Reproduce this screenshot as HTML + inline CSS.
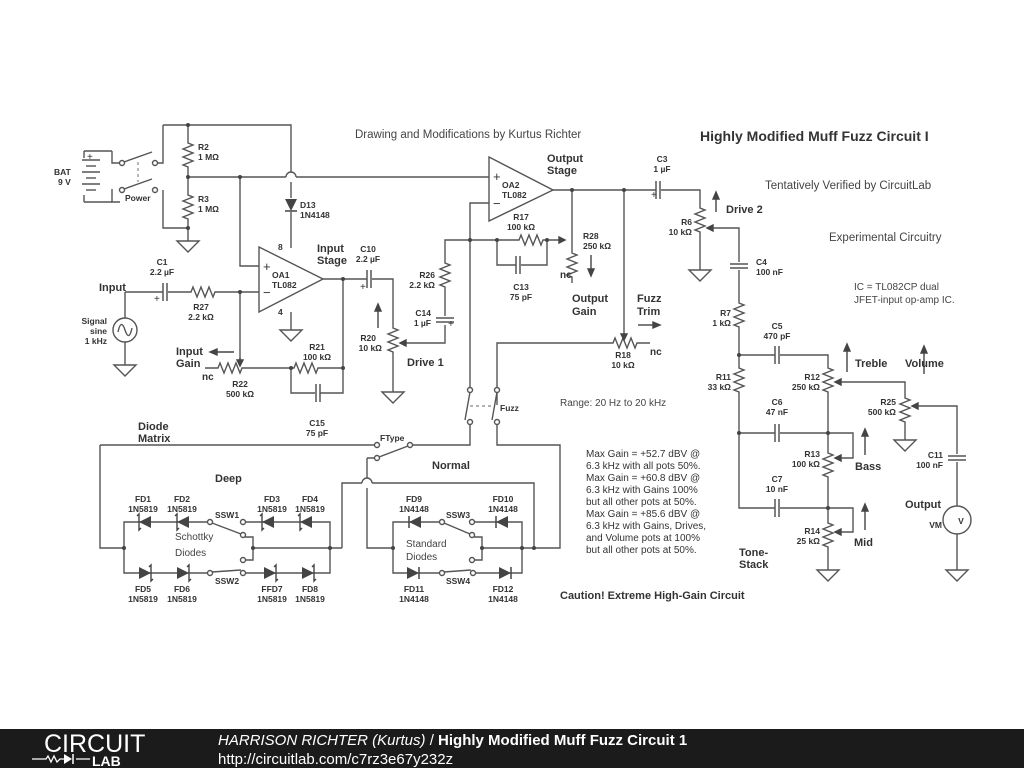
<!DOCTYPE html>
<html><head><meta charset="utf-8"><style>
html,body{margin:0;padding:0;background:#fff;}
svg{display:block}
text{font-family:"Liberation Sans",sans-serif;fill:#333}
.b{font-weight:bold;font-size:8.5px}
.m{font-weight:bold;font-size:11px}
.t{font-size:11.5px;fill:#444}
.n{font-size:10px;fill:#444}
</style></head><body>
<svg width="1024" height="768" viewBox="0 0 1024 768" xmlns="http://www.w3.org/2000/svg">
<defs>
<polyline id="rv" points="0,0 0,3 5,5 -5,9 5,13 -5,17 5,21 -5,25 0,27 0,30" fill="none" stroke="#555" stroke-width="1.4"/>
<polyline id="rh" points="0,0 3,0 5,-5 9,5 13,-5 17,5 21,-5 25,5 27,0 30,0" fill="none" stroke="#555" stroke-width="1.4"/>
<g id="gnd"><polygon points="-11,0 11,0 0,11" fill="#fff" stroke="#555" stroke-width="1.4"/></g>
<g id="dr"><polygon points="-6,-6 -6,6 6,0" fill="#444"/><line x1="6" y1="-6" x2="6" y2="6" stroke="#444" stroke-width="1.5"/></g>
<g id="dl"><polygon points="6,-6 6,6 -6,0" fill="#444"/><line x1="-6" y1="-6" x2="-6" y2="6" stroke="#444" stroke-width="1.5"/></g>
<g id="sl"><polygon points="6,-6 6,6 -6,0" fill="#444"/><polyline points="-8,-6 -6,-8 -6,8 -4,6" fill="none" stroke="#444" stroke-width="1.4"/></g>
<g id="sr"><polygon points="-6,-6 -6,6 6,0" fill="#444"/><polyline points="4,-6 6,-8 6,8 8,6" fill="none" stroke="#444" stroke-width="1.4"/></g>
<g id="cvp"><line x1="-2" y1="-9" x2="-2" y2="9" stroke="#555" stroke-width="1.5"/><line x1="2" y1="-9" x2="2" y2="9" stroke="#555" stroke-width="1.5"/></g>
<g id="chp"><line x1="-9" y1="-2" x2="9" y2="-2" stroke="#555" stroke-width="1.5"/><line x1="-9" y1="2" x2="9" y2="2" stroke="#555" stroke-width="1.5"/></g>
</defs>
<g fill="none" stroke="#555" stroke-width="1.4">
<path d="M163,125 H291 V172 M291,182 V198 M291,212 V248"/>
<path d="M286,177 A5,5 0 0 1 296,177"/>
<path d="M188,125 V140 M188,170 V192 M188,222 V232"/>
<path d="M163,125 V163 H155 M163,190 V228 H188"/>
<path d="M112,151 V163 H120 M112,189 V202 H120" />
<path d="M84,151 H112 M84,202 H112 M84,151 V158 M84,195 V202"/>
<line x1="82" y1="160" x2="100" y2="160"/><line x1="86" y1="166" x2="96" y2="166"/><line x1="82" y1="172" x2="100" y2="172"/><line x1="86" y1="178" x2="96" y2="178"/><line x1="82" y1="184" x2="100" y2="184"/><line x1="86" y1="190" x2="96" y2="190"/>
<circle cx="122" cy="163" r="2.5" fill="#fff"/><circle cx="155" cy="163" r="2.5" fill="#fff"/>
<circle cx="122" cy="190" r="2.5" fill="#fff"/><circle cx="155" cy="190" r="2.5" fill="#fff"/>
<path d="M124,162 L152,152 M124,189 L152,179"/>
<path d="M138,162 V182" stroke-dasharray="3,3" stroke="#999"/>
<path d="M188,232 V241"/>
<path d="M188,177 H286 M296,177 H489"/>
<path d="M240,177 V266 H259"/>
<polygon points="259,247 259,312 323,279" fill="#fff"/>
<path d="M291,312 V330"/>
<path d="M125,292 H163 M168,292 H188 M218,292 H259 M240,292 V360"/>
<path d="M125,292 V318 M125,342 V365"/>
<circle cx="125" cy="330" r="12"/>
<path d="M118,332 Q121,318 125,330 T132,328"/>
<path d="M215,368 H205 M245,368 H291 M321,368 H343 V279 M291,368 V393 H315 M320,393 H343 V368"/>
<path d="M323,279 H367 M372,279 H393 V325 M393,355 V392"/>
<path d="M400,343 H445 V325 M445,316 V290 M445,260 V240 H516"/>
<path d="M470,240 V203 H489 M470,240 V388 M497,405 V343 H610 M640,343 H650"/>
<path d="M497,240 V265 H516 M521,265 H547 V240 M547,240 H565"/>
<polygon points="489,157 489,221 553,190" fill="#fff"/>
<path d="M553,190 H656 M661,190 H700 V205 M700,235 V270 M707,228 H739 V262 M739,270 V300 M739,330 V365 M739,395 V508 H775 M780,508 H828 M739,433 H775 M780,433 H853 V458 H835 M739,355 H775 M780,355 H828 V365 M828,395 V450 M828,480 V520 M828,550 V570 M828,508 H853 V532 H835"/>
<path d="M572,190 V250 M572,280 V283 M624,190 V335"/>
<path d="M835,382 H905 V395 M905,425 V440 M912,406 H957 V454 M957,462 V506 M957,534 V570"/>
<circle cx="957" cy="520" r="14"/>
<circle cx="470" cy="390" r="2.5" fill="#fff"/><circle cx="497" cy="390" r="2.5" fill="#fff"/>
<circle cx="470" cy="422" r="2.5" fill="#fff"/><circle cx="497" cy="422" r="2.5" fill="#fff"/>
<path d="M470,392 L465,420 M497,392 L492,420"/>
<path d="M470,406 H492" stroke-dasharray="3,3" stroke="#999"/>
<path d="M470,424 V445 H410 M497,424 V445 H560 V548 H534"/>
<path d="M100,445 H375 M100,445 V548 H124"/>
<circle cx="377" cy="445" r="2.5" fill="#fff"/><circle cx="410" cy="445" r="2.5" fill="#fff"/><circle cx="377" cy="458" r="2.5" fill="#fff"/>
<path d="M379,457 L408,446"/>
<path d="M367,458 H375 M367,458 V478 M367,488 V548 H393"/>
<path d="M362,483 A5,5 0 0 1 372,483"/>
<path d="M342,548 V483 H362 M372,483 H534 V548"/>
<path d="M124,548 V522 H208 M124,548 V573 H208 M243,522 H330 V573 H243 M330,548 H342 M253,548 V537 H245 M253,548 V560 H245 M253,548 H330"/>
<circle cx="210" cy="522" r="2.5" fill="#fff"/><circle cx="243" cy="522" r="2.5" fill="#fff"/><circle cx="243" cy="535" r="2.5" fill="#fff"/><circle cx="243" cy="560" r="2.5" fill="#fff"/>
<circle cx="210" cy="573" r="2.5" fill="#fff"/><circle cx="243" cy="573" r="2.5" fill="#fff"/>
<path d="M212,523 L241,534 M212,572 L241,570"/>
<path d="M393,548 V522 H440 M393,548 V573 H440 M472,522 H522 V573 H473 M482,548 V537 H474 M482,548 V560 H474 M482,548 H534"/>
<circle cx="442" cy="522" r="2.5" fill="#fff"/><circle cx="472" cy="522" r="2.5" fill="#fff"/><circle cx="472" cy="535" r="2.5" fill="#fff"/><circle cx="472" cy="560" r="2.5" fill="#fff"/>
<circle cx="442" cy="573" r="2.5" fill="#fff"/><circle cx="473" cy="573" r="2.5" fill="#fff"/>
<path d="M444,523 L470,534 M444,572 L471,570"/>
</g>
<use href="#rv" x="188" y="140"/><use href="#rv" x="188" y="192"/>
<use href="#rh" x="188" y="292"/><use href="#rh" x="215" y="368"/><use href="#rh" x="291" y="368"/>
<use href="#rv" x="393" y="325"/><use href="#rv" x="445" y="260"/>
<use href="#rh" x="516" y="240"/><use href="#rv" x="572" y="250"/><use href="#rh" x="610" y="343"/>
<use href="#rv" x="700" y="205"/><use href="#rv" x="739" y="300"/><use href="#rv" x="739" y="365"/>
<use href="#rv" x="828" y="365"/><use href="#rv" x="828" y="450"/><use href="#rv" x="828" y="520"/><use href="#rv" x="905" y="395"/>
<use href="#cvp" x="165" y="292"/><use href="#cvp" x="369" y="279"/><use href="#cvp" x="318" y="393"/><use href="#cvp" x="518" y="265"/><use href="#cvp" x="658" y="190"/>
<use href="#chp" x="445" y="320"/><use href="#chp" x="739" y="266"/><use href="#chp" x="957" y="458"/>
<use href="#cvp" x="777" y="355"/><use href="#cvp" x="777" y="433"/><use href="#cvp" x="777" y="508"/>
<use href="#gnd" x="188" y="241"/><use href="#gnd" x="291" y="330"/><use href="#gnd" x="125" y="365"/><use href="#gnd" x="393" y="392"/>
<use href="#gnd" x="700" y="270"/><use href="#gnd" x="905" y="440"/><use href="#gnd" x="828" y="570"/><use href="#gnd" x="957" y="570"/>
<g transform="translate(291,205) rotate(90)"><use href="#dr"/></g>
<use href="#sl" x="145" y="522"/><use href="#sl" x="183" y="522"/><use href="#sl" x="268" y="522"/><use href="#sl" x="306" y="522"/>
<use href="#sr" x="145" y="573"/><use href="#sr" x="183" y="573"/><use href="#sr" x="270" y="573"/><use href="#sr" x="308" y="573"/>
<use href="#dl" x="415" y="522"/><use href="#dl" x="502" y="522"/><use href="#dr" x="413" y="573"/><use href="#dr" x="505" y="573"/>
<g stroke="#444" stroke-width="1.4" fill="#444">
<path d="M240,358 L240,365" /><polygon points="237,360 243,360 240,366"/>
<polygon points="400,343 406,340 406,346"/><polygon points="565,240 559,237 559,243"/><polygon points="624,340 621,334 627,334"/>
<polygon points="707,228 713,225 713,231"/><polygon points="835,382 841,379 841,385"/><polygon points="835,458 841,455 841,461"/><polygon points="835,532 841,529 841,535"/><polygon points="912,406 918,403 918,409"/>
<line x1="378" y1="328" x2="378" y2="310"/><polygon points="375,311 381,311 378,304"/>
<line x1="234" y1="352" x2="216" y2="352"/><polygon points="217,349 217,355 210,352"/>
<line x1="591" y1="255" x2="591" y2="270"/><polygon points="588,269 594,269 591,276"/>
<line x1="638" y1="325" x2="654" y2="325"/><polygon points="653,322 653,328 660,325"/>
<line x1="716" y1="212" x2="716" y2="198"/><polygon points="713,199 719,199 716,192"/>
<line x1="847" y1="372" x2="847" y2="350"/><polygon points="844,351 850,351 847,344"/>
<line x1="924" y1="374" x2="924" y2="352"/><polygon points="921,353 927,353 924,346"/>
<line x1="865" y1="455" x2="865" y2="435"/><polygon points="862,436 868,436 865,429"/>
<line x1="865" y1="530" x2="865" y2="510"/><polygon points="862,511 868,511 865,504"/>
</g>
<g fill="#444">
<circle cx="188" cy="125" r="2"/><circle cx="188" cy="177" r="2"/><circle cx="188" cy="228" r="2"/><circle cx="240" cy="177" r="2"/><circle cx="240" cy="292" r="2"/>
<circle cx="291" cy="368" r="2"/><circle cx="343" cy="368" r="2"/><circle cx="343" cy="279" r="2"/><circle cx="470" cy="240" r="2"/><circle cx="497" cy="240" r="2"/><circle cx="547" cy="240" r="2"/>
<circle cx="572" cy="190" r="2"/><circle cx="624" cy="190" r="2"/><circle cx="739" cy="355" r="2"/><circle cx="739" cy="433" r="2"/><circle cx="828" cy="433" r="2"/><circle cx="828" cy="508" r="2"/>
<circle cx="124" cy="548" r="2"/><circle cx="253" cy="548" r="2"/><circle cx="330" cy="548" r="2"/><circle cx="393" cy="548" r="2"/><circle cx="482" cy="548" r="2"/><circle cx="522" cy="548" r="2"/><circle cx="534" cy="548" r="2"/>
</g>
<text x="263" y="271" style="font-size:13px">+</text><text x="263" y="297" style="font-size:13px">−</text>
<text x="493" y="181" style="font-size:13px">+</text><text x="493" y="208" style="font-size:13px">−</text>
<text x="272" y="278" class="b">OA1</text><text x="272" y="288" class="b">TL082</text>
<text x="502" y="188" class="b">OA2</text><text x="502" y="198" class="b">TL082</text>
<text x="278" y="250" class="b">8</text><text x="278" y="315" class="b">4</text>
<text x="961" y="524" class="b" text-anchor="middle">V</text>
<g class="b">
<text x="198" y="150">R2</text><text x="198" y="160">1 MΩ</text>
<text x="198" y="202">R3</text><text x="198" y="212">1 MΩ</text>
<text x="300" y="208">D13</text><text x="300" y="218">1N4148</text>
<text x="54" y="175">BAT</text><text x="58" y="185">9 V</text>
<text x="125" y="201">Power</text>
<text x="162" y="265" text-anchor="middle">C1</text><text x="162" y="275" text-anchor="middle">2.2 µF</text>
<text x="201" y="310" text-anchor="middle">R27</text><text x="201" y="320" text-anchor="middle">2.2 kΩ</text>
<text x="107" y="324" text-anchor="end">Signal</text><text x="107" y="334" text-anchor="end">sine</text><text x="107" y="344" text-anchor="end">1 kHz</text>
<text x="240" y="387" text-anchor="middle">R22</text><text x="240" y="397" text-anchor="middle">500 kΩ</text>
<text x="317" y="350" text-anchor="middle">R21</text><text x="317" y="360" text-anchor="middle">100 kΩ</text>
<text x="368" y="252" text-anchor="middle">C10</text><text x="368" y="262" text-anchor="middle">2.2 µF</text>
<text x="376" y="341" text-anchor="end">R20</text><text x="382" y="351" text-anchor="end">10 kΩ</text>
<text x="435" y="278" text-anchor="end">R26</text><text x="435" y="288" text-anchor="end">2.2 kΩ</text>
<text x="431" y="316" text-anchor="end">C14</text><text x="431" y="326" text-anchor="end">1 µF</text>
<text x="521" y="220" text-anchor="middle">R17</text><text x="521" y="230" text-anchor="middle">100 kΩ</text>
<text x="521" y="290" text-anchor="middle">C13</text><text x="521" y="300" text-anchor="middle">75 pF</text>
<text x="583" y="239">R28</text><text x="583" y="249">250 kΩ</text>
<text x="623" y="358" text-anchor="middle">R18</text><text x="623" y="368" text-anchor="middle">10 kΩ</text>
<text x="662" y="162" text-anchor="middle">C3</text><text x="662" y="172" text-anchor="middle">1 µF</text>
<text x="692" y="225" text-anchor="end">R6</text><text x="692" y="235" text-anchor="end">10 kΩ</text>
<text x="756" y="265">C4</text><text x="756" y="275">100 nF</text>
<text x="731" y="316" text-anchor="end">R7</text><text x="731" y="326" text-anchor="end">1 kΩ</text>
<text x="777" y="329" text-anchor="middle">C5</text><text x="777" y="339" text-anchor="middle">470 pF</text>
<text x="731" y="380" text-anchor="end">R11</text><text x="731" y="390" text-anchor="end">33 kΩ</text>
<text x="820" y="380" text-anchor="end">R12</text><text x="820" y="390" text-anchor="end">250 kΩ</text>
<text x="777" y="405" text-anchor="middle">C6</text><text x="777" y="415" text-anchor="middle">47 nF</text>
<text x="820" y="457" text-anchor="end">R13</text><text x="820" y="467" text-anchor="end">100 kΩ</text>
<text x="777" y="482" text-anchor="middle">C7</text><text x="777" y="492" text-anchor="middle">10 nF</text>
<text x="820" y="534" text-anchor="end">R14</text><text x="820" y="544" text-anchor="end">25 kΩ</text>
<text x="896" y="405" text-anchor="end">R25</text><text x="896" y="415" text-anchor="end">500 kΩ</text>
<text x="943" y="458" text-anchor="end">C11</text><text x="943" y="468" text-anchor="end">100 nF</text>
<text x="942" y="528" text-anchor="end">VM</text>
<text x="317" y="426" text-anchor="middle">C15</text><text x="317" y="436" text-anchor="middle">75 pF</text>
<text x="500" y="411">Fuzz</text>
<text x="380" y="441">FType</text>
<text x="143" y="502" text-anchor="middle">FD1</text><text x="143" y="512" text-anchor="middle">1N5819</text>
<text x="182" y="502" text-anchor="middle">FD2</text><text x="182" y="512" text-anchor="middle">1N5819</text>
<text x="272" y="502" text-anchor="middle">FD3</text><text x="272" y="512" text-anchor="middle">1N5819</text>
<text x="310" y="502" text-anchor="middle">FD4</text><text x="310" y="512" text-anchor="middle">1N5819</text>
<text x="143" y="592" text-anchor="middle">FD5</text><text x="143" y="602" text-anchor="middle">1N5819</text>
<text x="182" y="592" text-anchor="middle">FD6</text><text x="182" y="602" text-anchor="middle">1N5819</text>
<text x="272" y="592" text-anchor="middle">FFD7</text><text x="272" y="602" text-anchor="middle">1N5819</text>
<text x="310" y="592" text-anchor="middle">FD8</text><text x="310" y="602" text-anchor="middle">1N5819</text>
<text x="227" y="518" text-anchor="middle">SSW1</text><text x="227" y="584" text-anchor="middle">SSW2</text>
<text x="414" y="502" text-anchor="middle">FD9</text><text x="414" y="512" text-anchor="middle">1N4148</text>
<text x="503" y="502" text-anchor="middle">FD10</text><text x="503" y="512" text-anchor="middle">1N4148</text>
<text x="414" y="592" text-anchor="middle">FD11</text><text x="414" y="602" text-anchor="middle">1N4148</text>
<text x="503" y="592" text-anchor="middle">FD12</text><text x="503" y="602" text-anchor="middle">1N4148</text>
<text x="458" y="518" text-anchor="middle">SSW3</text><text x="458" y="584" text-anchor="middle">SSW4</text>
</g>
<g class="m">
<text x="99" y="291">Input</text>
<text x="176" y="355">Input</text><text x="176" y="367">Gain</text>
<text x="202" y="380" style="font-size:10px">nc</text>
<text x="317" y="252">Input</text><text x="317" y="264">Stage</text>
<text x="407" y="366">Drive 1</text>
<text x="547" y="162">Output</text><text x="547" y="174">Stage</text>
<text x="572" y="302">Output</text><text x="572" y="315">Gain</text>
<text x="637" y="302">Fuzz</text><text x="637" y="315">Trim</text>
<text x="560" y="278" style="font-size:10px">nc</text><text x="650" y="355" style="font-size:10px">nc</text>
<text x="726" y="213">Drive 2</text>
<text x="855" y="367">Treble</text><text x="905" y="367">Volume</text>
<text x="855" y="470">Bass</text><text x="854" y="546">Mid</text>
<text x="905" y="508">Output</text>
<text x="739" y="556">Tone-</text><text x="739" y="568">Stack</text>
<text x="138" y="430">Diode</text><text x="138" y="442">Matrix</text>
<text x="215" y="482">Deep</text><text x="432" y="469">Normal</text>
<text x="560" y="599">Caution! Extreme High-Gain Circuit</text>
</g>
<text x="175" y="540" class="n">Schottky</text><text x="175" y="556" class="n">Diodes</text>
<text x="406" y="547" class="n">Standard</text><text x="406" y="560" class="n">Diodes</text>
<text x="355" y="138" class="t">Drawing and Modifications by Kurtus Richter</text>
<text x="700" y="141" style="font-size:14px;font-weight:bold;fill:#333">Highly Modified Muff Fuzz Circuit I</text>
<text x="765" y="189" class="t">Tentatively Verified by CircuitLab</text>
<text x="829" y="241" class="t">Experimental Circuitry</text>
<text x="854" y="290" class="n">IC = TL082CP dual</text><text x="854" y="303" class="n">JFET-input op-amp IC.</text>
<text x="560" y="406" class="n">Range: 20 Hz to 20 kHz</text>
<g class="n"><text x="586" y="457">Max Gain = +52.7 dBV @</text><text x="586" y="469">6.3 kHz with all pots 50%.</text><text x="586" y="481">Max Gain = +60.8 dBV @</text><text x="586" y="493">6.3 kHz with Gains 100%</text><text x="586" y="505">but all other pots at 50%.</text><text x="586" y="517">Max Gain = +85.6 dBV @</text><text x="586" y="529">6.3 kHz with Gains, Drives,</text><text x="586" y="541">and Volume pots at 100%</text><text x="586" y="553">but all other pots at 50%.</text></g>
<g fill="#666" style="font-size:10px"><text x="87" y="160">+</text><text x="154" y="302">+</text><text x="360" y="290">+</text><text x="448" y="327">+</text><text x="651" y="198">+</text></g>
<rect x="0" y="729" width="1024" height="39" fill="#1b1b1b"/>
<text x="44" y="752" style="font-size:25px;fill:#fff">CIRCUIT</text>
<path d="M32,759 H46 l2,-3 3,6 3,-6 3,6 3,-3 H64 M76,759 H90" stroke="#fff" stroke-width="1.3" fill="none"/>
<polygon points="64,754 64,764 72,759" fill="#fff"/><line x1="73" y1="754" x2="73" y2="764" stroke="#fff" stroke-width="1.5"/>
<text x="92" y="766" style="font-size:14px;fill:#fff;font-weight:bold">LAB</text>
<text x="218" y="745" style="font-size:15px;fill:#fff"><tspan font-style="italic">HARRISON RICHTER (Kurtus)</tspan> / <tspan font-weight="bold">Highly Modified Muff Fuzz Circuit 1</tspan></text>
<text x="218" y="764" style="font-size:15px;fill:#fff">http://circuitlab.com/c7rz3e67y232z</text>
</svg>
</body></html>
